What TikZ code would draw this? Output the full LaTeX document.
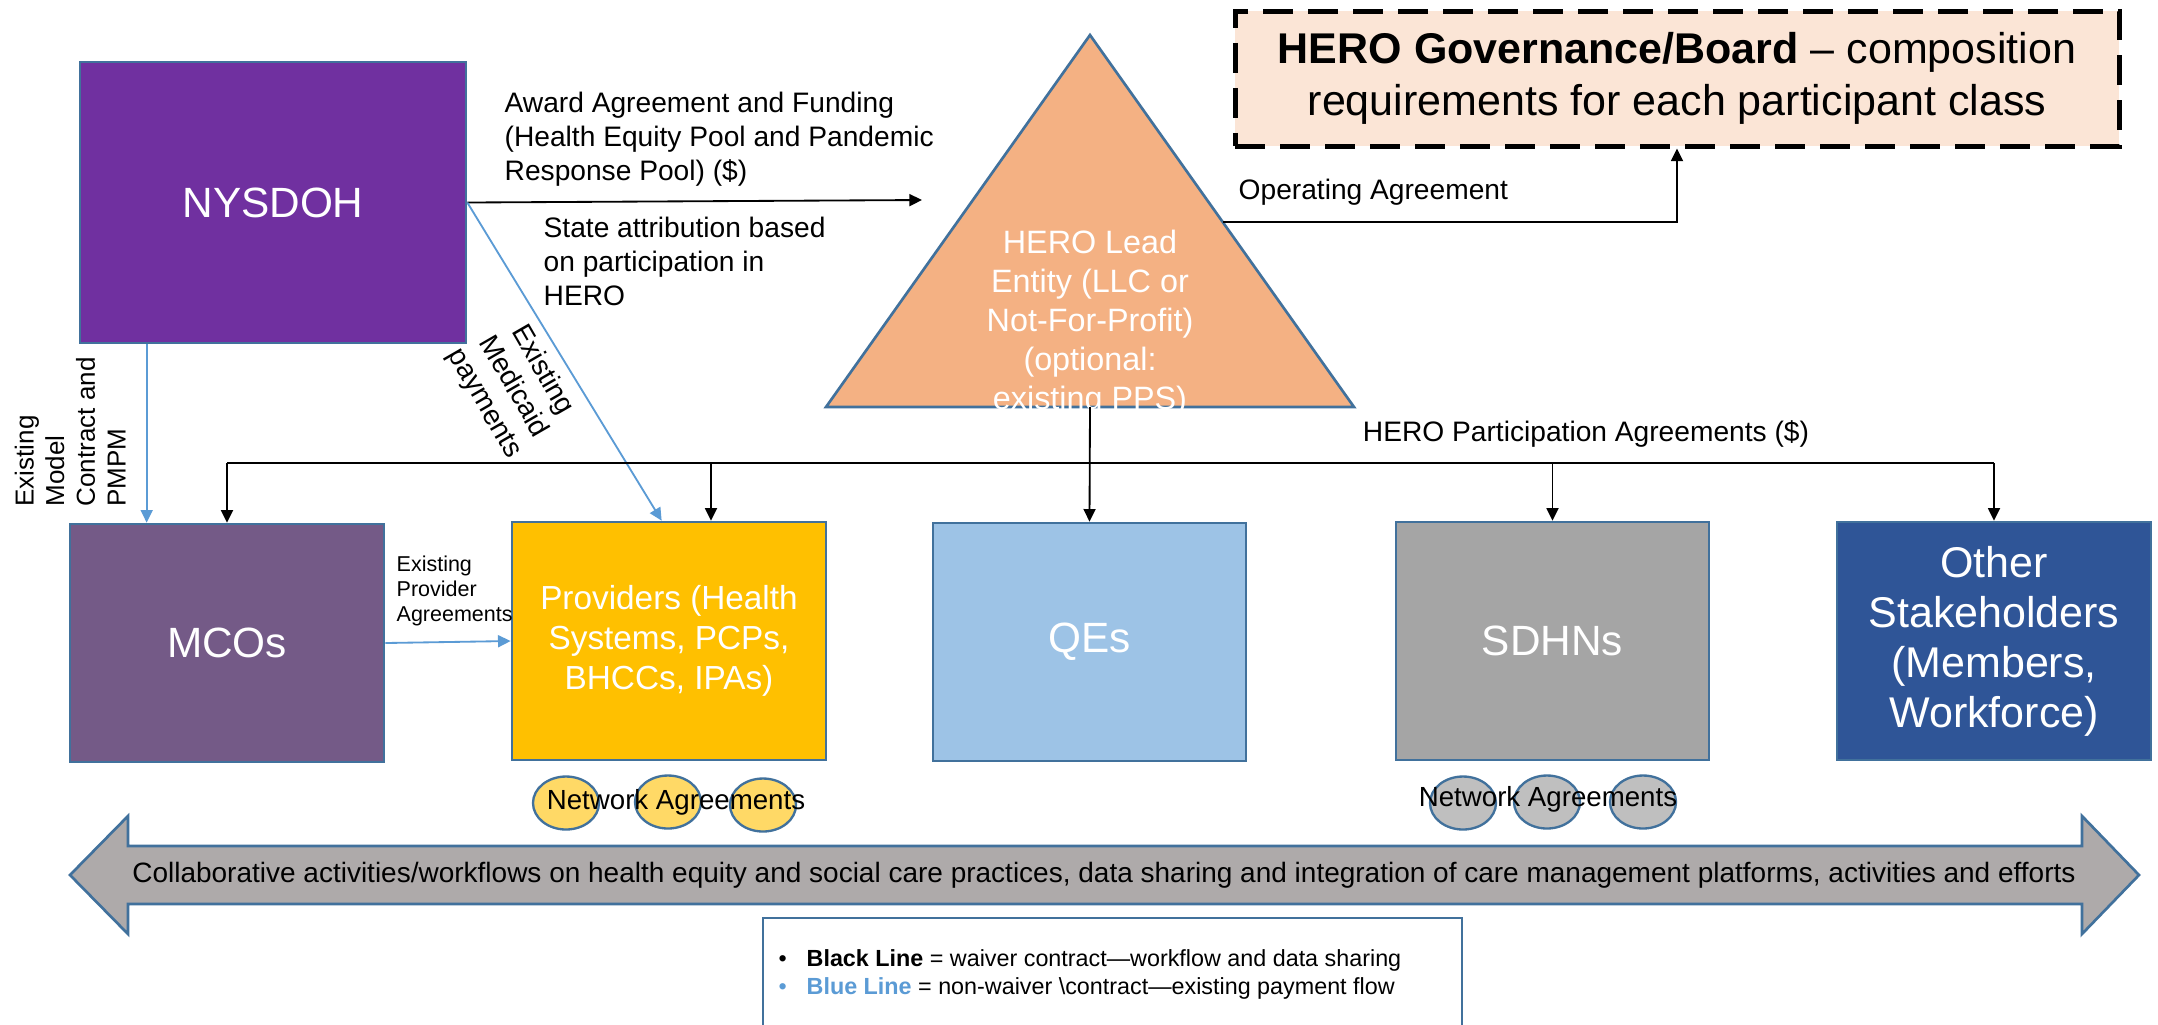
\documentclass[tikz,border=0pt]{standalone}
\usepackage{fontspec}
\setmainfont{Liberation Sans}
\usetikzlibrary{arrows.meta,shapes.geometric,calc}
\definecolor{bord}{HTML}{41719C}
\definecolor{nysc}{HTML}{7030A0}
\definecolor{mcoc}{HTML}{745A87}
\definecolor{tric}{HTML}{F4B183}
\definecolor{govc}{HTML}{FBE5D6}
\definecolor{provc}{HTML}{FFC000}
\definecolor{qesc}{HTML}{9DC3E6}
\definecolor{sdhnc}{HTML}{A5A5A5}
\definecolor{othc}{HTML}{2F5597}
\definecolor{ellY}{HTML}{FFD966}
\definecolor{ellG}{HTML}{BFBFBF}
\definecolor{bigc}{HTML}{AEAAAA}
\definecolor{bline}{HTML}{5B9BD5}
\begin{document}
\begin{tikzpicture}[x=0.3pt,y=-0.3pt,
  sz/.style 2 args={minimum width=#1*0.3pt,minimum height=#2*0.3pt},
  box/.style={draw=bord,line width=0.8pt,inner sep=0pt,text=white,align=center},
  bigf/.style={font=\fontsize{12.7}{15}\selectfont},
  blk/.style={draw=black,line width=0.55pt,-{Triangle[length=3.8pt,width=3.6pt]}},
  blu/.style={draw=bline,line width=0.55pt,-{Triangle[length=3.8pt,width=3.6pt]}},
  lbl/.style={font=\fontsize{8.45}{10.2}\selectfont,inner sep=0pt,align=left},
  ell/.style={ellipse,draw=bord,line width=0.7pt,inner sep=0pt,sz={66}{53}},
]
\clip (0,0) rectangle (2158,1024);
\fill[white] (0,0) rectangle (2158,1024);

% main boxes
\node[box,fill=nysc,sz={386}{281},bigf] (nys) at (273,202.5) {NYSDOH};
\node[box,fill=mcoc,sz={314}{238},bigf] (mco) at (227,643) {MCOs};
\node[box,fill=provc,sz={314}{238},font=\fontsize{10}{12}\selectfont] (prov) at (669,641) {Providers (Health\\Systems, PCPs,\\BHCCs, IPAs)};
\node[box,fill=qesc,sz={313}{238},bigf] (qes) at (1089.5,642) {QEs};
\node[box,fill=sdhnc,sz={313}{238},bigf] (sdhn) at (1552.5,641) {SDHNs};
\node[box,fill=othc,sz={314}{238},font=\fontsize{12.9}{15}\selectfont] (oth) at (1994,641) {Other\\Stakeholders\\(Members,\\Workforce)};

% governance
\node[draw=black,fill=govc,line width=1.5pt,dash pattern=on 9pt off 4.5pt,sz={884}{135},align=center,
  font=\fontsize{12.9}{15.6}\selectfont,inner sep=0pt] (gov) at (1677,78.5)
  {\textbf{HERO Governance/Board} – composition\\requirements for each participant class};

% triangle
\filldraw[fill=tric,draw=bord,line width=0.8pt] (826,407) coordinate (triBL) -- (1090,35) coordinate (triT) -- (1354,407) coordinate (triBR) -- cycle;
\coordinate (triB) at (1090,407);
\coordinate (triR) at (1223,222);
\node[text=white,align=center,font=\fontsize{9.7}{11.7}\selectfont,inner sep=0pt] (trit) at (1090,323)
  {HERO Lead\\Entity (LLC or\\Not-For-Profit)\\(optional:\\existing PPS)};

% connectors
\coordinate (awEnd) at (922,200);
\draw[blk] (nys.east) -- (awEnd);
\draw[blu] (nys.east) -- ($(prov.north west)+(151,0)$);
\draw[blu] ($(nys.south west)+(68,0)$) -- ($(mco.north west)+(78,0)$);
\draw[blk] (triR) -| (gov.south);
\coordinate (hl) at (0,463);
\coordinate (provDrop) at ($(prov.north)+(42,0)$);
\draw[line width=0.55pt] (mco.north |- hl) -- (oth.north |- hl);
\draw[blk] (mco.north |- hl) -- (mco.north);
\draw[blk] (provDrop |- hl) -- (provDrop);
\draw[blk] (triB) -- (qes.north);
\draw[blk] (sdhn.north |- hl) -- (sdhn.north);
\draw[blk] (oth.north |- hl) -- (oth.north);
\draw[blu] (mco.east) -- (prov.west);

% labels
\node[lbl,anchor=north west] (award) at (504,91) {Award Agreement and Funding\\(Health Equity Pool and Pandemic\\Response Pool) (\$)};
\node[lbl,anchor=north west] (state) at (543,216) {State attribution based\\on participation in\\HERO};
\node[lbl,anchor=base west] (oper) at (1238,199) {Operating Agreement};
\node[lbl,anchor=base] (part) at (1586,441) {HERO Participation Agreements (\$)};
\node[rotate=-60,align=center,inner sep=0pt,font=\fontsize{8.4}{10}\selectfont] (medi) at (513,387) {Existing\\Medicaid\\payments};
\node[rotate=90,anchor=north west,align=left,inner sep=0pt,font=\fontsize{7.8}{9.2}\selectfont] (pmpm) at (14,507) {Existing\\Model\\Contract and\\PMPM};
\node[anchor=north west,align=left,inner sep=0pt,font=\fontsize{6.45}{7.5}\selectfont] (epa) at (396,555) {Existing\\Provider\\Agreements};

% network agreements
\node[ell,fill=ellY] (y1) at (566,803) {};
\node[ell,fill=ellY] (y2) at (668,802) {};
\node[ell,fill=ellY] (y3) at (763,805) {};
\node[font=\fontsize{8.3}{9}\selectfont,inner sep=0pt] (netY) at (676,802) {Network Agreements};
\node[ell,fill=ellG] (g1) at (1463,803) {};
\node[ell,fill=ellG] (g2) at (1547,802) {};
\node[ell,fill=ellG] (g3) at (1643,802) {};
\node[font=\fontsize{8.3}{9}\selectfont,inner sep=0pt] (netG) at (1548,799) {Network Agreements};

% big double arrow
\filldraw[fill=bigc,draw=bord,line width=0.8pt] (70,875) -- (128,816) -- (128,846) -- (2082,846) -- (2082,816) -- (2139,875) -- (2082,934) -- (2082,904) -- (128,904) -- (128,934) -- cycle;
\node[font=\fontsize{8.4}{9}\selectfont,inner sep=0pt] (collab) at (1104,875) {Collaborative activities/workflows on health equity and social care practices, data sharing and integration of care management platforms, activities and efforts};

% legend
\node[draw=bord,line width=0.8pt,fill=white,sz={699}{140}] (legbox) at (1112.5,988) {};
\node[anchor=west,align=left,inner sep=0pt,font=\fontsize{7}{8.4}\selectfont] (leg) at (778,974)
  {\makebox[8.4pt][l]{\textbullet}\textbf{Black Line} = waiver contract—workflow and data sharing\\
   \makebox[8.4pt][l]{\color{bline}\textbullet}\textbf{\color{bline}Blue Line} = non-waiver \textbackslash contract—existing payment flow};
\end{tikzpicture}
\end{document}
